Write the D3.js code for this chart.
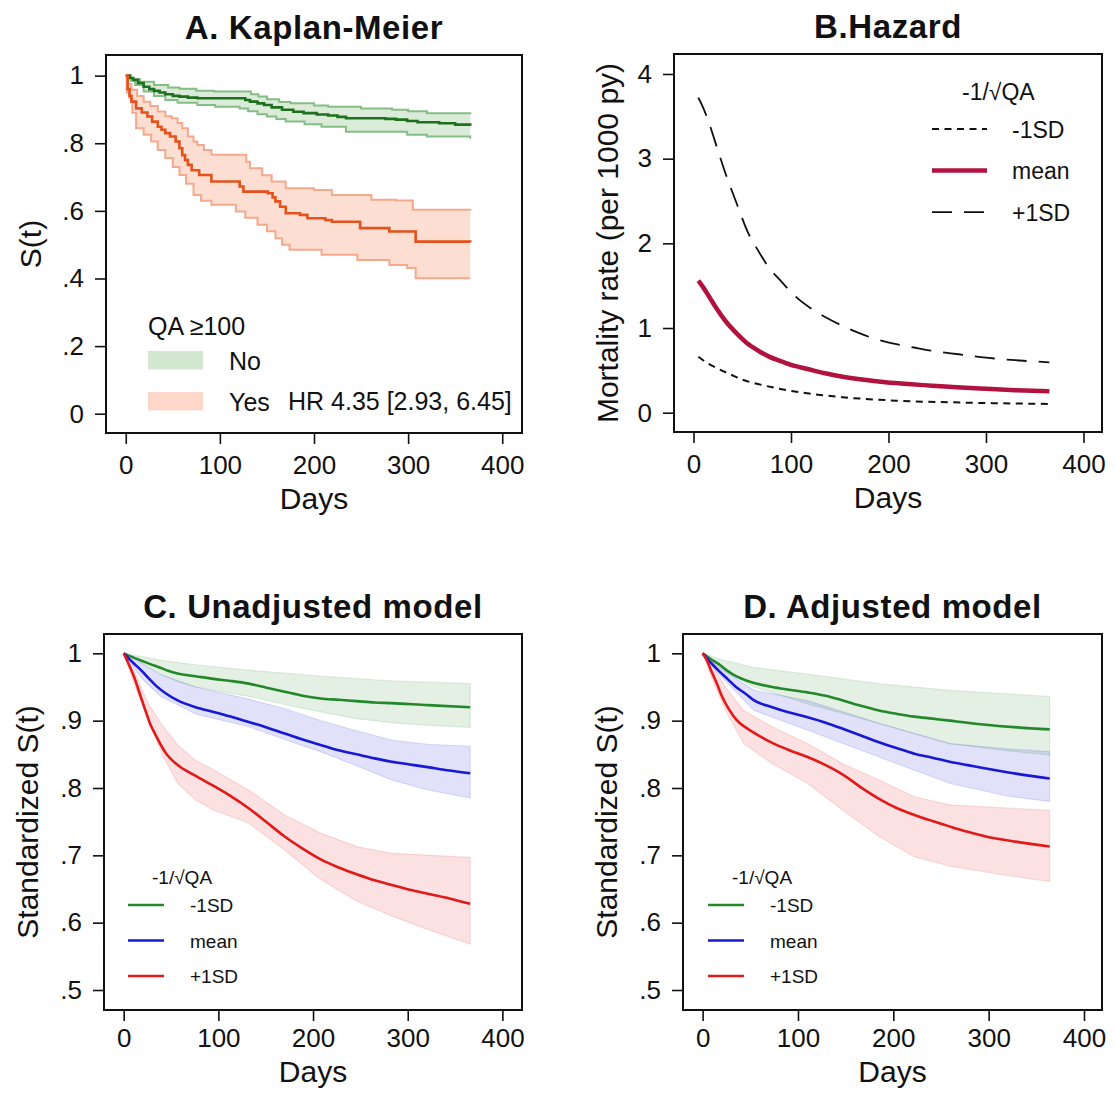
<!DOCTYPE html>
<html lang="en">
<head>
<meta charset="UTF-8">
<title>Survival by QA</title>
<script src="https://d3js.org/d3.v7.min.js"></script>
<style>
  body { margin: 0; background: #fff; }
  text { font-family: "Liberation Sans", Arial, sans-serif; fill: #111; }
  .title { font-weight: bold; font-size: 33px; letter-spacing: 0.6px; }
  .axis text { font-size: 26px; }
  .axis line { stroke: #111; stroke-width: 1.6px; }
  .axis path { display: none; }
  .frame { fill: none; stroke: #111; stroke-width: 2px; }
</style>
</head>
<body>
<div id="chart"></div>
<script>
// ---- Panel A: Kaplan-Meier (step points [day, S(t)])
const aNoSurv = [[0,1],[4,.993],[8,.987],[13,.978],[19,.967],[25,.96],[30,.955],[36,.95],[42,.945],[50,.94],[57,.938],[66,.935],[76,.933],[121,.933],[127,.928],[132,.923],[140,.918],[147,.913],[155,.906],[166,.899],[178,.893],[189,.889],[203,.885],[215,.882],[225,.878],[234,.874],[276,.872],[287,.87],[299,.866],[310,.862],[333,.859],[350,.855],[366,.852]];
const aNoUpper = [[0,1],[6,.99],[15,.982],[30,.972],[45,.965],[57,.961],[75,.955],[94,.953],[125,.953],[133,.945],[141,.938],[150,.93],[163,.922],[175,.918],[200,.912],[215,.908],[250,.903],[283,.899],[300,.895],[320,.889],[366,.886]];
const aNoLower = [[0,1],[5,.985],[10,.972],[19,.953],[30,.94],[42,.928],[55,.92],[76,.913],[95,.908],[121,.903],[130,.895],[140,.886],[150,.879],[160,.872],[170,.864],[190,.856],[208,.849],[234,.834],[285,.834],[299,.825],[320,.82],[366,.813]];
const aYesSurv = [[0,1],[2,.96],[4,.94],[6,.923],[11,.903],[17,.891],[23,.879],[28,.864],[34,.849],[38,.84],[42,.83],[47,.82],[53,.805],[57,.785],[60,.765],[63,.75],[66,.736],[70,.72],[78,.706],[91,.687],[118,.687],[121,.672],[125,.657],[151,.652],[156,.64],[159,.628],[164,.612],[170,.593],[185,.588],[193,.578],[212,.573],[219,.568],[249,.549],[280,.539],[308,.509],[366,.507]];
const aYesUpper = [[0,1],[2,.975],[6,.958],[12,.94],[19,.923],[26,.91],[34,.894],[42,.88],[49,.874],[55,.86],[60,.844],[66,.82],[72,.805],[76,.795],[83,.78],[91,.766],[125,.766],[128,.745],[132,.726],[145,.705],[155,.687],[170,.667],[200,.662],[219,.647],[253,.647],[261,.633],[287,.631],[305,.603],[366,.601]];
const aYesLower = [[0,1],[1,.95],[4,.933],[7,.89],[11,.844],[19,.825],[27,.805],[34,.78],[42,.756],[50,.73],[57,.706],[64,.68],[72,.647],[80,.63],[91,.618],[117,.598],[127,.58],[140,.559],[150,.54],[159,.519],[166,.5],[174,.485],[208,.47],[246,.455],[280,.44],[299,.431],[308,.401],[366,.401]];
const aYTicks = [0, .2, .4, .6, .8, 1];
const aLegendTitle = "QA \u2265100";
const aLegendLabels = ["No", "Yes"];
const aHR = "HR 4.35 [2.93, 6.45]";

// ---- Panel B: hazard (mortality rate per 1000 py)
const bPlus = [[5,3.72],[10,3.6],[15,3.45],[25,3.1],[33,2.82],[45,2.45],[55,2.15],[66,1.92],[77,1.72],[90,1.55],[102,1.4],[118,1.25],[135,1.13],[152,1.03],[172,.93],[190,.86],[208,.81],[226,.77],[245,.73],[272,.69],[300,.65],[330,.62],[365,.595]];
const bMean = [[5,1.56],[10,1.48],[15,1.39],[22,1.26],[33,1.08],[44,.94],[55,.82],[66,.735],[77,.665],[88,.614],[100,.565],[117,.516],[135,.465],[153,.425],[175,.388],[197,.36],[220,.338],[245,.319],[270,.3],[300,.282],[330,.266],[365,.253]];
const bMinus = [[5,.66],[15,.58],[25,.52],[37,.457],[50,.39],[66,.339],[85,.29],[110,.24],[130,.21],[153,.182],[180,.16],[208,.142],[235,.13],[263,.123],[290,.116],[318,.111],[365,.103]];
const bYTicks = [0, 1, 2, 3, 4];

// ---- Panel C: unadjusted model
const cMinus = [[0,1],[10,.994],[19,.989],[28,.984],[38,.979],[47,.974],[57,.97],[76,.966],[95,.962],[113,.959],[132,.955],[151,.949],[170,.943],[189,.937],[208,.933],[227,.931],[246,.929],[265,.927],[283,.926],[321,.923],[366,.92]];
const cMinusUp = [[0,1],[20,.995],[38,.99],[76,.983],[132,.975],[208,.966],[283,.959],[366,.955]];
const cMinusLo = [[0,1],[20,.985],[38,.97],[57,.958],[76,.95],[132,.936],[170,.924],[208,.913],[246,.903],[283,.897],[321,.893],[366,.89]];
const cMean = [[0,1],[10,.986],[19,.974],[27,.962],[34,.952],[45,.94],[57,.93],[76,.92],[95,.913],[113,.906],[132,.898],[151,.89],[170,.881],[189,.872],[208,.864],[227,.856],[246,.85],[265,.844],[283,.839],[302,.835],[321,.831],[344,.826],[366,.822]];
const cMeanUp = [[0,1],[19,.985],[38,.969],[76,.95],[132,.932],[170,.918],[208,.9],[246,.885],[283,.871],[321,.865],[366,.862]];
const cMeanLo = [[0,1],[19,.963],[38,.937],[76,.91],[132,.891],[170,.872],[208,.854],[246,.833],[283,.812],[321,.797],[366,.785]];
const cPlus = [[0,1],[5,.985],[11,.965],[17,.94],[23,.915],[28,.895],[34,.878],[40,.862],[45,.851],[57,.834],[76,.818],[95,.803],[113,.788],[132,.77],[151,.749],[170,.728],[189,.71],[208,.694],[227,.682],[246,.672],[265,.663],[283,.656],[302,.649],[321,.643],[344,.636],[366,.628]];
const cPlusUp = [[0,1],[11,.974],[26,.925],[42,.891],[57,.864],[76,.841],[95,.827],[132,.797],[170,.76],[208,.733],[246,.713],[283,.703],[366,.697]];
const cPlusLo = [[0,1],[11,.955],[26,.9],[42,.846],[57,.807],[76,.782],[95,.767],[132,.748],[170,.708],[208,.664],[246,.632],[283,.61],[321,.59],[366,.568]];

// ---- Panel D: adjusted model
const dMinus = [[0,1],[8,.992],[17,.984],[26,.974],[35,.966],[45,.96],[54,.956],[73,.95],[91,.946],[110,.942],[129,.937],[147,.93],[166,.922],[185,.915],[204,.91],[222,.906],[241,.903],[259,.9],[297,.894],[330,.89],[364,.887]];
const dMinusUp = [[0,1],[17,.992],[54,.979],[110,.969],[185,.955],[259,.945],[364,.936]];
const dMinusLo = [[0,1],[17,.979],[54,.95],[110,.925],[185,.896],[259,.866],[320,.855],[364,.849]];
const dMean = [[0,1],[8,.987],[17,.974],[26,.962],[35,.95],[45,.94],[54,.93],[73,.92],[91,.912],[110,.905],[129,.897],[147,.888],[166,.878],[185,.868],[204,.859],[222,.851],[241,.845],[259,.839],[278,.834],[297,.829],[330,.821],[364,.814]];
const dMeanUp = [[0,1],[17,.979],[54,.945],[110,.93],[185,.896],[259,.866],[320,.858],[364,.854]];
const dMeanLo = [[0,1],[17,.969],[54,.915],[110,.886],[185,.846],[259,.807],[320,.788],[364,.78]];
const dPlus = [[0,1],[5,.988],[9,.974],[15,.955],[20,.937],[28,.916],[35,.902],[45,.89],[54,.882],[73,.867],[91,.856],[110,.846],[129,.834],[147,.82],[166,.801],[185,.784],[204,.77],[222,.76],[241,.751],[259,.743],[278,.735],[297,.728],[330,.72],[364,.713]];
const dPlusUp = [[0,1],[9,.984],[24,.95],[43,.915],[73,.891],[110,.866],[147,.836],[185,.812],[222,.787],[259,.775],[320,.77],[364,.767]];
const dPlusLo = [[0,1],[9,.965],[24,.915],[43,.866],[73,.836],[110,.807],[147,.767],[185,.728],[222,.698],[259,.684],[320,.67],[364,.661]];

const sYTicks = [.5, .6, .7, .8, .9, 1];
const xTicks = [0, 100, 200, 300, 400];
const sdTitle = "-1/\u221AQA";
const sdLabels = ["-1SD", "mean", "+1SD"];

const svg = d3.select("#chart").append("svg")
    .attr("width", 1115).attr("height", 1093);

const fmtDot = d => d === 0 ? "0" : d === 1 ? "1" : String(d).replace("0.", ".");

// draws frame, axes, labels; returns scales
function panel(p) {
    const g = svg.append("g");
    const x = d3.scaleLinear().domain(p.xDomain).range([p.box[0], p.box[2]]);
    const y = d3.scaleLinear().domain(p.yDomain).range([p.box[3], p.box[1]]);
    const clipId = "clip" + p.id;
    svg.append("clipPath").attr("id", clipId).append("rect")
        .attr("x", p.box[0]).attr("y", p.box[1])
        .attr("width", p.box[2] - p.box[0]).attr("height", p.box[3] - p.box[1]);
    const plot = g.append("g").attr("clip-path", `url(#${clipId})`);

    g.append("g").attr("class", "axis")
        .attr("transform", `translate(${p.box[0]},0)`)
        .call(d3.axisLeft(y).tickValues(p.yTicks).tickFormat(p.yFmt).tickSize(11).tickPadding(11));
    g.append("g").attr("class", "axis")
        .attr("transform", `translate(0,${p.box[3]})`)
        .call(d3.axisBottom(x).tickValues(xTicks).tickSize(11).tickPadding(p.xPad));
    g.selectAll(".axis text").attr("fill", "#111");

    g.append("rect").attr("class", "frame")
        .attr("x", p.box[0]).attr("y", p.box[1])
        .attr("width", p.box[2] - p.box[0]).attr("height", p.box[3] - p.box[1]);

    const cx = (p.box[0] + p.box[2]) / 2, cy = (p.box[1] + p.box[3]) / 2;
    g.append("text").attr("class", "title")
        .attr("x", cx).attr("y", p.box[1] - 16)
        .attr("text-anchor", "middle").text(p.title);
    g.append("text").attr("x", cx).attr("y", p.box[3] + p.daysOff)
        .attr("text-anchor", "middle").style("font-size", "30px").text("Days");
    g.append("text")
        .attr("transform", `translate(${p.yLabelX},${cy}) rotate(-90)`)
        .attr("text-anchor", "middle").attr("dy", "0.35em")
        .style("font-size", "30px").text(p.yLabel);
    return {g, plot, x, y};
}

// expand step points to explicit staircase
function stairs(pts) {
    const out = [pts[0]];
    for (let i = 1; i < pts.length; i++) {
        out.push([pts[i][0], pts[i - 1][1]]);
        out.push(pts[i]);
    }
    return out;
}

// ---------- A ----------
const A = panel({id: "A", box: [106, 55, 522, 433], xDomain: [-21, 421], yDomain: [-0.057, 1.061],
    yTicks: aYTicks, yFmt: fmtDot, title: "A. Kaplan-Meier", yLabel: "S(t)", yLabelX: 30, xPad: 12, daysOff: 76});
const aLine = d3.line().x(d => A.x(d[0])).y(d => A.y(d[1]));
const aGroups = [
    {up: aNoUpper, lo: aNoLower, mid: aNoSurv, fill: "#d3e7d1", edge: "#86bd86", line: "#1d701d"},
    {up: aYesUpper, lo: aYesLower, mid: aYesSurv, fill: "#fdd8ca", edge: "#f5a98c", line: "#e4521c"}
];
aGroups.forEach(s => {
    const poly = stairs(s.up).concat(stairs(s.lo).reverse());
    A.plot.append("path").attr("d", aLine(poly) + "Z").attr("fill", s.fill).attr("fill-opacity", 0.85);
});
aGroups.forEach(s => {
    [s.up, s.lo].forEach(b => A.plot.append("path").attr("d", aLine(stairs(b)))
        .attr("fill", "none").attr("stroke", s.edge).attr("stroke-width", 2));
    A.plot.append("path").attr("d", aLine(stairs(s.mid)))
        .attr("fill", "none").attr("stroke", s.line).attr("stroke-width", 2.6);
});
A.g.append("text").attr("x", 148).attr("y", 335).style("font-size", "25px").text(aLegendTitle);
aLegendLabels.forEach((lab, i) => {
    const yy = 351 + i * 41;
    A.g.append("rect").attr("x", 148).attr("y", yy).attr("width", 55).attr("height", 18.5)
        .attr("fill", aGroups[i].fill);
    A.g.append("text").attr("x", 229).attr("y", yy + 18.5).style("font-size", "25px").text(lab);
});
A.g.append("text").attr("x", 288).attr("y", 410).style("font-size", "25px").text(aHR);

// ---------- B ----------
const B = panel({id: "B", box: [674, 54, 1102, 432], xDomain: [-20, 419], yDomain: [-0.228, 4.236],
    yTicks: bYTicks, yFmt: d3.format("d"), title: "B.Hazard", yLabel: "Mortality rate (per 1000 py)",
    yLabelX: 607, xPad: 12, daysOff: 76});
const bLine = d3.line().x(d => B.x(d[0])).y(d => B.y(d[1])).curve(d3.curveMonotoneX);
const bSeries = [
    {data: bMinus, color: "#111", width: 2, dash: "7,5.5"},
    {data: bMean, color: "#b2123f", width: 4.5, dash: null},
    {data: bPlus, color: "#111", width: 1.8, dash: "20,12"}
];
bSeries.forEach(s => B.plot.append("path").attr("d", bLine(s.data)).attr("fill", "none")
    .attr("stroke", s.color).attr("stroke-width", s.width).attr("stroke-dasharray", s.dash));
B.g.append("text").attr("x", 962).attr("y", 100).style("font-size", "23px").text(sdTitle);
sdLabels.forEach((lab, i) => {
    const yy = 129 + i * 41.6, s = bSeries[i];
    B.g.append("line").attr("x1", 932).attr("x2", 987).attr("y1", yy).attr("y2", yy)
        .attr("stroke", s.color).attr("stroke-width", s.width).attr("stroke-dasharray", s.dash);
    B.g.append("text").attr("x", 1012).attr("y", yy + 8.5).style("font-size", "23px").text(lab);
});

// ---------- C & D ----------
const sdColors = ["#23882a", "#1717d6", "#e11919"];
function modelPanel(P, series, legX) {
    const line = d3.line().x(d => P.x(d[0])).y(d => P.y(d[1])).curve(d3.curveMonotoneX);
    const poly = d3.line().x(d => P.x(d[0])).y(d => P.y(d[1])).curve(d3.curveLinearClosed);
    series.forEach((s, i) => {
        P.plot.append("path").attr("d", poly(s.up.concat(s.lo.slice().reverse())))
            .attr("fill", sdColors[i]).attr("fill-opacity", 0.13)
            .attr("stroke", sdColors[i]).attr("stroke-opacity", 0.12).attr("stroke-width", 1.2);
    });
    series.forEach((s, i) => {
        P.plot.append("path").attr("d", line(s.mid)).attr("fill", "none")
            .attr("stroke", sdColors[i]).attr("stroke-width", 2.6);
    });
    P.g.append("text").attr("x", legX + 24).attr("y", 884).style("font-size", "19px").text(sdTitle);
    sdLabels.forEach((lab, i) => {
        const yy = 905 + i * 35.5;
        P.g.append("line").attr("x1", legX).attr("x2", legX + 36).attr("y1", yy).attr("y2", yy)
            .attr("stroke", sdColors[i]).attr("stroke-width", 2.6);
        P.g.append("text").attr("x", legX + 62).attr("y", yy + 7).style("font-size", "19px").text(lab);
    });
}

const C = panel({id: "C", box: [104, 634, 522, 1010], xDomain: [-20.8, 420.7], yDomain: [0.4703, 1.0287],
    yTicks: sYTicks, yFmt: fmtDot, title: "C. Unadjusted model", yLabel: "Standardized S(t)",
    yLabelX: 27, xPad: 8, daysOff: 72});
modelPanel(C, [
    {mid: cMinus, up: cMinusUp, lo: cMinusLo},
    {mid: cMean, up: cMeanUp, lo: cMeanLo},
    {mid: cPlus, up: cPlusUp, lo: cPlusLo}
], 128);

const D = panel({id: "D", box: [683, 634, 1102, 1010], xDomain: [-20.6, 418.9], yDomain: [0.4703, 1.0287],
    yTicks: sYTicks, yFmt: fmtDot, title: "D. Adjusted model", yLabel: "Standardized S(t)",
    yLabelX: 606, xPad: 8, daysOff: 72});
modelPanel(D, [
    {mid: dMinus, up: dMinusUp, lo: dMinusLo},
    {mid: dMean, up: dMeanUp, lo: dMeanLo},
    {mid: dPlus, up: dPlusUp, lo: dPlusLo}
], 708);
</script>
</body>
</html>
